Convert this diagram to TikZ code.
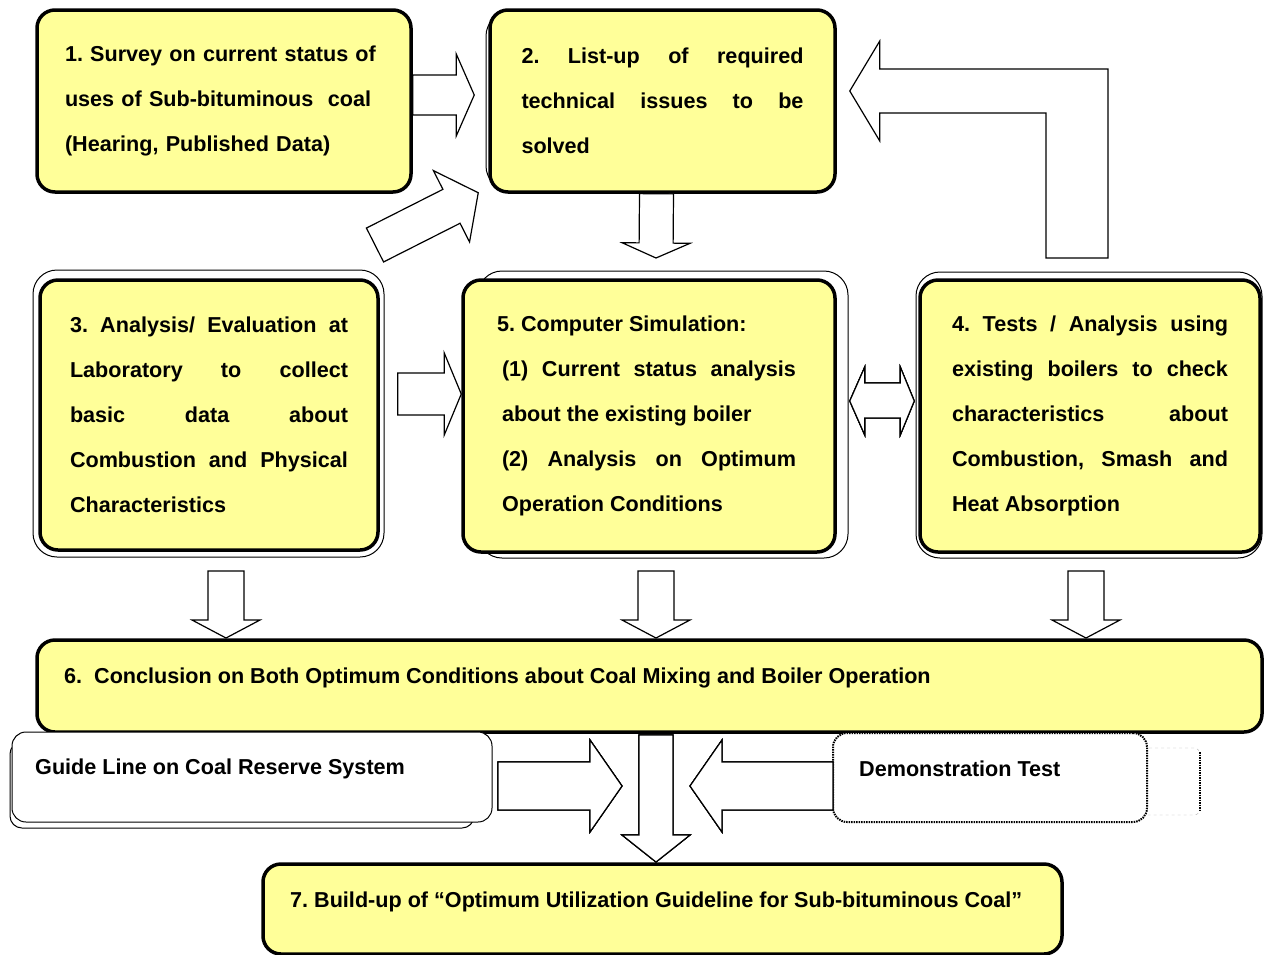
\documentclass[tikz,border=0pt]{standalone}
\usepackage{fontspec}
\setmainfont{Liberation Sans}
\usetikzlibrary{calc}
\frenchspacing

\definecolor{boxyellow}{HTML}{FFFF99}
\newcommand{\boxfont}{\fontsize{21.6}{45}\selectfont\bfseries}
% block arrow: tail, tip, half shaft, half head, head length
\newcommand{\blockarrow}[5]{%
  \path ($(#2)!#5!(#1)$) coordinate (ah);
  \draw[blockarrow] ($(#1)!#3!90:(#2)$) -- ($(ah)!#3!90:(#2)$) -- ($(ah)!#4!90:(#2)$) -- (#2)
    -- ($(ah)!#4!-90:(#2)$) -- ($(ah)!#3!-90:(#2)$) -- ($(#1)!#3!-90:(#2)$) -- cycle;}

\begin{document}
\begin{tikzpicture}[
    x=1pt, y=-1pt,
    ybox/.style={draw, line width=3.5pt, fill=boxyellow, rounded corners=18pt, inner sep=0pt, font=\boxfont},
    wbox/.style={draw, line width=1pt, fill=white, rounded corners=14pt, inner sep=0pt},
    dots/.style={line width=2pt, dash pattern=on 1.5pt off 1pt},
    dbox/.style={draw, dots, fill=white, rounded corners=14pt, inner sep=0pt},
    frame/.style={draw, line width=1pt, fill=white, rounded corners=24pt},
    blockarrow/.style={draw, fill=white, line width=1.2pt},
    txt/.style={anchor=west, inner sep=0pt, font=\boxfont}
    ]
    \useasboundingbox (0,0) rectangle (1264,954);

    % thin frames behind the boxes
    \draw[frame] (486,12) rectangle (830,190);
    \draw[frame] (33,270) rectangle (384,557);
    \draw[frame] (478,271) rectangle (848,558);
    \draw[frame] (916,272) rectangle (1262,558);

    % boxes
    \node[ybox, minimum width=374pt, minimum height=182pt, text width=318pt, align=left] (survey) at (224,101)
      {1. Survey on current status of\\uses of Sub-bituminous~ coal\\(Hearing, Published Data)};
    \node[ybox, minimum width=345pt, minimum height=182pt, text width=282pt, align=justify] (issues) at (662.5,101)
      {2. List-up of required\linebreak technical issues to be\linebreak solved};
    \node[ybox, minimum width=338pt, minimum height=270pt, text width=278pt, align=justify] (lab) at (209,415)
      {3. Analysis/ Evaluation at\linebreak Laboratory to collect\linebreak basic data about\linebreak Combustion and Physical\linebreak Characteristics};
    \node[ybox, minimum width=372pt, minimum height=272pt, text width=294pt, align=justify] (sim) at (649,416)
      {\hspace*{-5pt}5. Computer Simulation:\\(1) Current status analysis\linebreak about the existing boiler\\(2) Analysis on Optimum\linebreak Operation Conditions};
    \node[ybox, minimum width=340pt, minimum height=272pt, text width=276pt, align=justify] (boiler) at (1090,416)
      {4. Tests / Analysis using\linebreak existing boilers to check\linebreak characteristics about\linebreak Combustion, Smash and\linebreak Heat Absorption};
    \node[ybox, minimum width=1225pt, minimum height=92pt] (concl) at (649.5,686) {};
    \node[txt] (concltext) at (64,678) {6.~ Conclusion on Both Optimum Conditions about Coal Mixing and Boiler Operation};

    \draw[line width=1pt, fill=white, rounded corners=12pt] (10,742) rectangle (474,828);
    \node[wbox, minimum width=480pt, minimum height=90pt] (reserve) at (252,777) {};
    \node[txt] (reservetext) at (35,769) {Guide Line on Coal Reserve System};

    \draw[gray!60, dashed, rounded corners=6pt] (1140,748) rectangle (1200,815);
    \draw[dots] (1200,752) -- (1200,811);
    \node[dbox, minimum width=314pt, minimum height=89pt] (demo) at (990,777.5) {};
    \node[txt] (demotext) at (859,769) {Demonstration Test};

    \node[ybox, minimum width=799pt, minimum height=90pt] (guideline) at (662.5,909) {};
    \node[txt] (guidelinetext) at (290,902) {7. Build-up of “Optimum Utilization Guideline for Sub-bituminous Coal”};

    % arrow ends
    \coordinate (a1s) at ([yshift=6pt]survey.east);
    \coordinate (a1e) at ([xshift=-14pt,yshift=6pt]issues.west);
    \coordinate (a2s) at (375,245);
    \coordinate (a2e) at ([xshift=-10pt,yshift=1pt]issues.south west);
    \coordinate (a3s) at ([xshift=-6pt]issues.south);
    \coordinate (a3e) at (656,258);
    \coordinate (a5s) at ([xshift=18pt,yshift=21pt]lab.east);
    \coordinate (a5e) at ([yshift=22pt]sim.west);
    \coordinate (dl) at ([xshift=13pt,yshift=15pt]sim.east);
    \coordinate (dr) at ([xshift=-4pt,yshift=15pt]boiler.west);
    \coordinate (fbtail) at (1077,258);
    \coordinate (fbtip) at ([xshift=13pt,yshift=10pt]issues.east);
    \coordinate (a7s) at (656,735);
    \coordinate (a7e) at (656,862);
    \coordinate (gls) at (498,786);
    \coordinate (gle) at (622,786);
    \coordinate (dts) at (833,786);
    \coordinate (dte) at (690,786);

    % block arrows
    \blockarrow{a1s}{a1e}{20pt}{41pt}{18pt}
    \blockarrow{a2s}{a2e}{19pt}{40pt}{30pt}
    \blockarrow{a3s}{a3e}{17pt}{34pt}{15pt}
    \blockarrow{a5s}{a5e}{21pt}{41pt}{17pt}
    \foreach \x in {226,656,1086}
      \blockarrow{\x,571}{\x,638}{18pt}{34pt}{18pt}
    \blockarrow{a7s}{a7e}{17pt}{34pt}{27pt}
    \blockarrow{gls}{gle}{24pt}{46pt}{32pt}
    \blockarrow{dts}{dte}{24pt}{46pt}{32pt}
    \draw[blockarrow] (dl) -- ([xshift=15pt,yshift=34pt]dl) -- ([xshift=15pt,yshift=18pt]dl)
      -- ([xshift=-14pt,yshift=18pt]dr) -- ([xshift=-14pt,yshift=34pt]dr) -- (dr)
      -- ([xshift=-14pt,yshift=-34pt]dr) -- ([xshift=-14pt,yshift=-17pt]dr)
      -- ([xshift=15pt,yshift=-17pt]dl) -- ([xshift=15pt,yshift=-34pt]dl) -- cycle;
    \draw[blockarrow] ([xshift=31pt]fbtail) |- ([xshift=30pt,yshift=22pt]fbtip)
      -- ([xshift=30pt,yshift=50pt]fbtip) -- (fbtip) -- ([xshift=30pt,yshift=-50pt]fbtip)
      -- ([xshift=30pt,yshift=-22pt]fbtip) -| ([xshift=-31pt]fbtail) -- cycle;
  \end{tikzpicture}
\end{document}
